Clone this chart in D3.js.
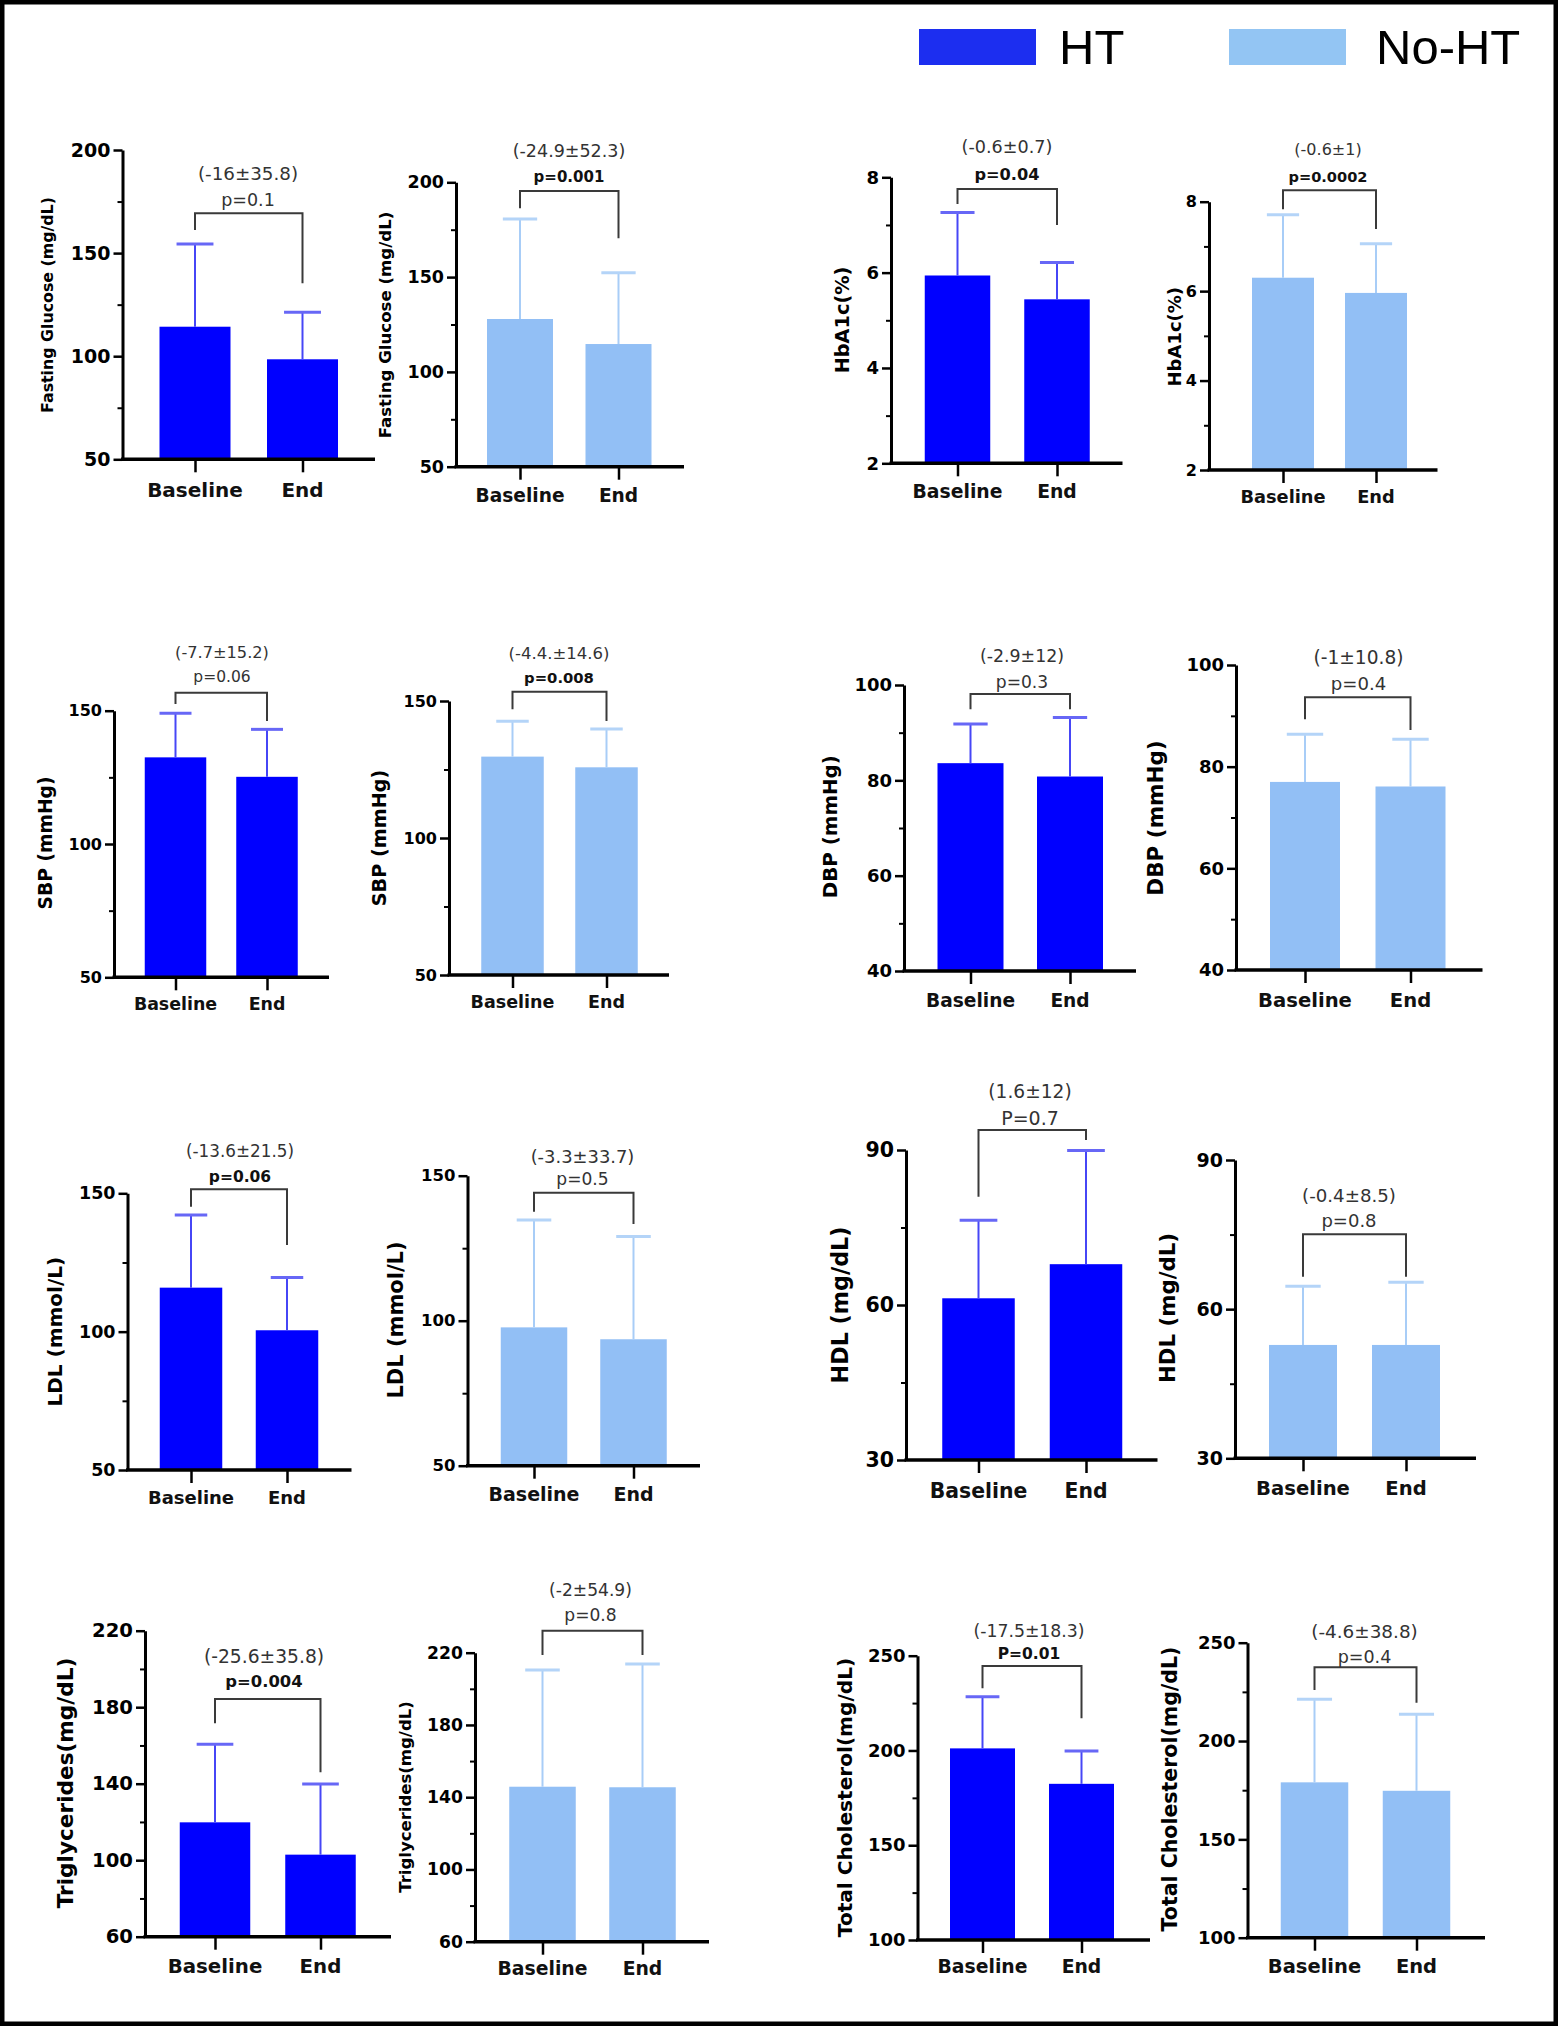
<!DOCTYPE html>
<html>
<head>
<meta charset="utf-8">
<script src="https://cdn.jsdelivr.net/npm/d3@7"></script>
<style>
  html, body { margin: 0; padding: 0; background: #fff; }
  svg { display: block; }
</style>
</head>
<body>
<svg id="chart" width="1558" height="2026"></svg>
<script>
// ---------------- DATA ----------------
const categories = ["Baseline", "End"];
const legendLabels = ["HT", "No-HT"];
const panelGroup = ["HT","No-HT","HT","No-HT","HT","No-HT","HT","No-HT","HT","No-HT","HT","No-HT","HT","No-HT","HT","No-HT"];
const axisTitles = [
  "Fasting Glucose (mg/dL)", "Fasting Glucose (mg/dL)",
  "HbA1c(%)", "HbA1c(%)",
  "SBP (mmHg)", "SBP (mmHg)",
  "DBP (mmHg)", "DBP (mmHg)",
  "LDL (mmol/L)", "LDL (mmol/L)",
  "HDL (mg/dL)", "HDL (mg/dL)",
  "Triglycerides(mg/dL)", "Triglycerides(mg/dL)",
  "Total Cholesterol(mg/dL)", "Total Cholesterol(mg/dL)"
];
const meanBaseline = [114.3, 127.9, 5.94, 6.30, 132.5, 129.7, 83.6, 77.0, 115.9, 97.7, 61.3, 52.8, 119.8, 145.8, 201.1, 179.0];
const meanEnd      = [ 98.5, 114.7, 5.44, 5.96, 125.2, 125.8, 80.8, 76.1, 100.5, 93.6, 67.9, 52.8, 102.9, 145.5, 182.4, 174.7];
const sdBaseline   = [ 40.1,  52.7, 1.32, 1.41,  16.5,  12.9,  8.2,  9.4,  26.3, 37.0, 15.1, 11.8,  40.8,  64.6,  27.2,  42.2];
const sdEnd        = [ 22.8,  37.6, 0.77, 1.10,  17.8,  14.0, 12.4,  9.3,  19.1, 35.4, 22.0, 12.6,  36.9,  68.3,  17.3,  38.9];
const yMin  = [50, 50, 2, 2, 50, 50, 40, 40, 50, 50, 30, 30, 60, 60, 100, 100];
const yMax  = [200, 200, 8, 8, 150, 150, 100, 100, 150, 150, 90, 90, 220, 220, 250, 250];
const majorStep = [50, 50, 2, 2, 50, 50, 20, 20, 50, 50, 30, 30, 40, 40, 50, 50];
const minorStep = [25, 25, 1, 1, 25, 25, 10, 10, 25, 25, 15, 15, 20, 20, 25, 25];
const changeLabels = [
  "(-16±35.8)", "(-24.9±52.3)", "(-0.6±0.7)", "(-0.6±1)",
  "(-7.7±15.2)", "(-4.4.±14.6)", "(-2.9±12)", "(-1±10.8)",
  "(-13.6±21.5)", "(-3.3±33.7)", "(1.6±12)", "(-0.4±8.5)",
  "(-25.6±35.8)", "(-2±54.9)", "(-17.5±18.3)", "(-4.6±38.8)"
];
const pLabels = [
  "p=0.1", "p=0.001", "p=0.04", "p=0.0002",
  "p=0.06", "p=0.008", "p=0.3", "p=0.4",
  "p=0.06", "p=0.5", "P=0.7", "p=0.8",
  "p=0.004", "p=0.8", "P=0.01", "p=0.4"
];
const pBold = [false, true, true, true, false, true, false, false, true, false, false, false, true, false, true, false];

// ---------------- LAYOUT (pixels) ----------------
// ax: y-axis x, xEnd: x-axis end, yTop/yBot: pixel of max/min, c: bar centres, bw: bar width,
// br: [bracket top, left leg end, right leg end], chgY/pY: text baselines, tx: text centre,
// ti: [title x, title y, font size], tf: tick font, cf: category font, cy: category baseline, chf/pf: annotation fonts
const layout = [
  {ax:122.5, xEnd:375, yTop:150, yBot:459.3, c:[195,302.5], bw:71, br:[213.3,230,283.3], chgY:180, pY:206, tx:248, ti:[47.5,305,15.8], tf:19, cf:20, cy:496.7, chf:18.3, pf:17.5},
  {ax:456, xEnd:684, yTop:182.3, yBot:466.7, c:[520,618.5], bw:66, br:[191,208.3,238.3], chgY:156.7, pY:181.7, tx:569, ti:[385,325,16.6], tf:17.5, cf:18.6, cy:501.7, chf:17.5, pf:15},
  {ax:891, xEnd:1122.5, yTop:177.3, yBot:463.3, c:[957.5,1057], bw:65.5, br:[189,204,225], chgY:153.3, pY:180, tx:1007, ti:[842.5,320,19.3], tf:18, cf:18.8, cy:498.3, chf:17.6, pf:16.2},
  {ax:1209, xEnd:1437.5, yTop:201.7, yBot:470, c:[1283,1376], bw:62, br:[190.3,209.3,229], chgY:155, pY:181.7, tx:1328, ti:[1175,336.7,18], tf:16, cf:17.8, cy:502.7, chf:16, pf:14.6},
  {ax:114, xEnd:329, yTop:710.7, yBot:977.3, c:[175.5,267], bw:61.5, br:[692.7,704,721], chgY:658.3, pY:681.7, tx:222, ti:[45,843,18.7], tf:16, cf:17.4, cy:1010, chf:16.2, pf:15.5},
  {ax:449, xEnd:669, yTop:701, yBot:975, c:[512.5,606.5], bw:62.5, br:[691.7,709.3,721], chgY:659, pY:683.3, tx:559, ti:[379,838,19.2], tf:16, cf:17.5, cy:1008.3, chf:16.5, pf:14.8},
  {ax:904, xEnd:1136, yTop:685, yBot:971, c:[970.5,1070], bw:66, br:[694,709.3,709.3], chgY:661.7, pY:688.3, tx:1022, ti:[830,826.7,19.8], tf:18, cf:18.6, cy:1006.7, chf:17.4, pf:17.1},
  {ax:1236, xEnd:1482.5, yTop:665, yBot:970, c:[1305,1410.5], bw:70, br:[697.3,719.3,730], chgY:664.3, pY:690, tx:1358.5, ti:[1155,818,21.5], tf:18, cf:19.6, cy:1007.3, chf:18.6, pf:18.1},
  {ax:127.5, xEnd:351.5, yTop:1193.3, yBot:1470, c:[191,287], bw:62.5, br:[1189.3,1206.7,1245], chgY:1156.7, pY:1181.7, tx:240, ti:[55,1331.7,20], tf:17.5, cf:18, cy:1504.3, chf:16.8, pf:15.5},
  {ax:467.5, xEnd:700, yTop:1175.7, yBot:1465.7, c:[534,633.5], bw:66.5, br:[1192.7,1211.7,1224], chgY:1163.3, pY:1185, tx:582.5, ti:[395,1320,21], tf:16.5, cf:19, cy:1501, chf:17.9, pf:17.1},
  {ax:906, xEnd:1157.5, yTop:1150, yBot:1460, c:[978.5,1086], bw:72.5, br:[1130,1196.7,1140], chgY:1098.3, pY:1125, tx:1030, ti:[840,1305,22.3], tf:20.5, cf:20.4, cy:1497.7, chf:18.6, pf:19},
  {ax:1235, xEnd:1476, yTop:1160, yBot:1458.3, c:[1303,1406], bw:68, br:[1234.3,1276.7,1276.7], chgY:1201.7, pY:1226.7, tx:1349, ti:[1167.5,1308,21.3], tf:19, cf:19.6, cy:1495, chf:18.2, pf:18},
  {ax:145, xEnd:391, yTop:1630.7, yBot:1936.7, c:[215,320.5], bw:70.5, br:[1699,1723.3,1772.3], chgY:1663.3, pY:1686.7, tx:264, ti:[65,1783,21.6], tf:19.6, cf:19.8, cy:1973.3, chf:18.7, pf:16.4},
  {ax:475, xEnd:709, yTop:1652.7, yBot:1941.7, c:[542.5,642.5], bw:66.5, br:[1630.7,1655,1655], chgY:1596, pY:1620.7, tx:590.5, ti:[405,1797,16.5], tf:17.2, cf:18.8, cy:1975, chf:17.1, pf:17.1},
  {ax:917.5, xEnd:1150, yTop:1655.7, yBot:1940, c:[982.5,1081.5], bw:65, br:[1666,1688.3,1718.3], chgY:1636.7, pY:1659.3, tx:1029, ti:[845,1797.5,20.1], tf:18, cf:18.8, cy:1973.3, chf:17.3, pf:15.5},
  {ax:1247.5, xEnd:1485, yTop:1642.7, yBot:1937.7, c:[1314.5,1416.5], bw:67.5, br:[1667.3,1690,1702.7], chgY:1638.3, pY:1663.3, tx:1364.5, ti:[1170,1789,20.5], tf:18, cf:19.5, cy:1973.3, chf:18.4, pf:17.5}
];

const styles = {
  "HT":    {bar: "#0000ff", err: "#4646f6", cap: "#6767f6", legend: "#1c2ef0"},
  "No-HT": {bar: "#92bff5", err: "#a8cdf7", cap: "#b4d4f8", legend: "#93c5f3"}
};
const FONT = "'DejaVu Sans', sans-serif";

// ---------------- DRAW ----------------
const svg = d3.select("#chart");
svg.append("rect").attr("x", 0).attr("y", 0).attr("width", 1558).attr("height", 2026).attr("fill", "#fff");

// Legend
const legendPos = [{bx: 919, tx: 1059}, {bx: 1229, tx: 1376}];
legendLabels.forEach((lab, i) => {
  svg.append("rect").attr("x", legendPos[i].bx).attr("y", 29).attr("width", 117).attr("height", 36)
    .attr("fill", styles[lab].legend);
  svg.append("text").attr("x", legendPos[i].tx).attr("y", 64)
    .attr("font-family", "'Liberation Sans', Arial, sans-serif").attr("font-size", 49)
    .attr("fill", "#000").text(lab);
});

layout.forEach((L, i) => {
  const g = svg.append("g");
  const st = styles[panelGroup[i]];
  const y = d3.scaleLinear().domain([yMin[i], yMax[i]]).range([L.yBot, L.yTop]);
  const x = d3.scalePoint().domain(categories).range(L.c);
  const means = [meanBaseline[i], meanEnd[i]];
  const sds = [sdBaseline[i], sdEnd[i]];
  const rows = categories.map((c, k) => ({cat: c, mean: means[k], sd: sds[k]}));

  // bars
  g.selectAll("rect.bar").data(rows).enter().append("rect")
    .attr("x", d => x(d.cat) - L.bw / 2)
    .attr("y", d => y(d.mean))
    .attr("width", L.bw)
    .attr("height", d => y(yMin[i]) - y(d.mean))
    .attr("fill", st.bar);

  // error bars (upper)
  g.selectAll("line.err").data(rows).enter().append("line")
    .attr("x1", d => x(d.cat)).attr("x2", d => x(d.cat))
    .attr("y1", d => y(d.mean)).attr("y2", d => y(d.mean + d.sd))
    .attr("stroke", st.err).attr("stroke-width", 2);
  g.selectAll("line.cap").data(rows).enter().append("line")
    .attr("x1", d => x(d.cat) - L.bw * 0.26).attr("x2", d => x(d.cat) + L.bw * 0.26)
    .attr("y1", d => y(d.mean + d.sd)).attr("y2", d => y(d.mean + d.sd))
    .attr("stroke", st.cap).attr("stroke-width", 3);

  // y axis major
  const majors = d3.range(yMin[i], yMax[i] + majorStep[i] / 2, majorStep[i]);
  const minors = d3.range(yMin[i] + minorStep[i], yMax[i], minorStep[i]).filter(v => !majors.some(m => Math.abs(m - v) < 1e-9));
  const yAxis = g.append("g").attr("transform", `translate(${L.ax},0)`)
    .call(d3.axisLeft(y).tickValues(majors).tickSize(9).tickSizeOuter(0).tickPadding(3).tickFormat(d3.format("d")));
  yAxis.select(".domain").attr("stroke", "#000").attr("stroke-width", 3);
  yAxis.selectAll(".tick line").attr("stroke", "#000").attr("stroke-width", 2.5);
  yAxis.selectAll(".tick text").attr("font-family", FONT).attr("font-weight", "bold")
    .attr("font-size", L.tf).attr("fill", "#000");
  const yMinor = g.append("g").attr("transform", `translate(${L.ax},0)`)
    .call(d3.axisLeft(y).tickValues(minors).tickSize(5).tickSizeOuter(0).tickFormat(""));
  yMinor.select(".domain").remove();
  yMinor.selectAll(".tick line").attr("stroke", "#000").attr("stroke-width", 2);

  // x axis
  g.append("line").attr("x1", L.ax - 1.5).attr("x2", L.xEnd).attr("y1", L.yBot).attr("y2", L.yBot)
    .attr("stroke", "#000").attr("stroke-width", 3.5);
  const xAxis = g.append("g").attr("transform", `translate(0,${L.yBot})`)
    .call(d3.axisBottom(x).tickSize(13).tickSizeOuter(0).tickFormat(""));
  xAxis.select(".domain").remove();
  xAxis.selectAll(".tick line").attr("stroke", "#000").attr("stroke-width", 2.5);
  g.selectAll("text.cat").data(categories).enter().append("text")
    .attr("x", d => x(d)).attr("y", L.cy).attr("text-anchor", "middle")
    .attr("font-family", FONT).attr("font-weight", "bold").attr("font-size", L.cf)
    .attr("fill", "#111").text(d => d);

  // axis title
  g.append("text")
    .attr("transform", `translate(${L.ti[0]},${L.ti[1]}) rotate(-90)`)
    .attr("dy", "0.36em").attr("text-anchor", "middle")
    .attr("font-family", FONT).attr("font-weight", "bold").attr("font-size", L.ti[2])
    .attr("fill", "#000").text(axisTitles[i]);

  // comparison bracket
  const bx1 = x(categories[0]), bx2 = x(categories[1]);
  g.append("path")
    .attr("d", `M${bx1},${L.br[1]}V${L.br[0]}H${bx2}V${L.br[2]}`)
    .attr("fill", "none").attr("stroke", "#3a3a3a").attr("stroke-width", 2);
  g.append("text").attr("x", L.tx).attr("y", L.chgY).attr("text-anchor", "middle")
    .attr("font-family", FONT).attr("font-size", L.chf).attr("fill", "#333").text(changeLabels[i]);
  g.append("text").attr("x", L.tx).attr("y", L.pY).attr("text-anchor", "middle")
    .attr("font-family", FONT).attr("font-size", L.pf)
    .attr("font-weight", pBold[i] ? "bold" : "normal")
    .attr("fill", pBold[i] ? "#111" : "#333").text(pLabels[i]);
});

// outer frame
svg.append("rect").attr("x", 0).attr("y", 0).attr("width", 1558).attr("height", 2026)
  .attr("fill", "none").attr("stroke", "#000").attr("stroke-width", 9);
</script>
</body>
</html>
